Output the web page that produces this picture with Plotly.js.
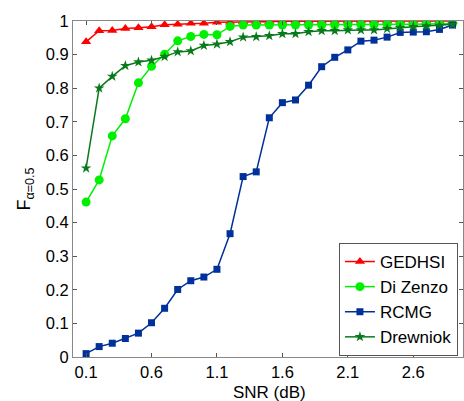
<!DOCTYPE html>
<html>
<head>
<meta charset="utf-8">
<script src="https://cdn.plot.ly/plotly-3.0.1.min.js"></script>
<style>html,body{margin:0;padding:0;background:#fff;}#chart{width:464px;height:401px;}</style>
</head>
<body>
<div id="chart"></div>
<script>
const snr = [0.1,0.2,0.3,0.4,0.5,0.6,0.7,0.8,0.9,1.0,1.1,1.2,1.3,1.4,1.5,1.6,1.7,1.8,1.9,2.0,2.1,2.2,2.3,2.4,2.5,2.6,2.7,2.8,2.9];
const gedhsi = [0.938,0.971,0.972,0.978,0.980,0.983,0.989,0.990,0.993,0.993,0.996,0.996,0.998,0.998,0.998,0.999,0.999,0.999,0.999,0.999,1.0,1.0,1.0,1.0,1.0,1.0,1.0,1.0,1.0];
const diZenzo = [0.461,0.527,0.658,0.709,0.816,0.865,0.901,0.941,0.954,0.960,0.959,0.984,0.988,0.988,0.988,0.988,0.988,0.988,0.988,0.988,0.989,0.989,0.989,0.990,0.990,0.990,0.991,0.991,0.992];
const rcmg = [0.010,0.031,0.041,0.055,0.071,0.102,0.145,0.201,0.227,0.238,0.261,0.367,0.537,0.551,0.712,0.757,0.765,0.809,0.864,0.892,0.914,0.940,0.943,0.952,0.966,0.967,0.968,0.975,0.988];
const drewniok = [0.562,0.800,0.835,0.867,0.878,0.883,0.894,0.908,0.911,0.927,0.931,0.938,0.952,0.953,0.956,0.962,0.962,0.968,0.971,0.971,0.973,0.973,0.973,0.977,0.980,0.983,0.985,0.987,0.990];
const xTicks = [0.1,0.6,1.1,1.6,2.1,2.6];
const yTicks = [0,0.1,0.2,0.3,0.4,0.5,0.6,0.7,0.8,0.9,1];
const yTickText = ['0','0.1','0.2','0.3','0.4','0.5','0.6','0.7','0.8','0.9','1'];
const xTitle = 'SNR (dB)';
const yTitle = 'F<sub>α=0.5</sub>';

const traces = [
  {x:snr,y:gedhsi,name:'GEDHSI',mode:'lines+markers',line:{color:'#ff0000',width:1.5},marker:{symbol:'triangle-up',size:9,color:'#ff0000'}},
  {x:snr,y:diZenzo,name:'Di Zenzo',mode:'lines+markers',line:{color:'#00f000',width:1.5},marker:{symbol:'circle',size:9,color:'#00f000'}},
  {x:snr,y:rcmg,name:'RCMG',mode:'lines+markers',line:{color:'#00309a',width:1.5},marker:{symbol:'square',size:7,color:'#00309a'}},
  {x:snr,y:drewniok,name:'Drewniok',mode:'lines+markers',line:{color:'#087a1c',width:1.5},marker:{symbol:'star',size:8,color:'#087a1c'}}
];
const fam = 'Liberation Sans, Arial, sans-serif';
const layout = {
  width:464,height:401,
  margin:{l:73,r:1,t:21,b:44,pad:0},
  paper_bgcolor:'#fff',plot_bgcolor:'#fff',
  font:{family:fam,size:16.5,color:'#000'},
  showlegend:true,
  legend:{x:0.987,y:0.003,xanchor:'right',yanchor:'bottom',bgcolor:'#fff',bordercolor:'#555',borderwidth:1,font:{family:fam,size:17,color:'#000'},tracegroupgap:0,itemwidth:30},
  xaxis:{range:[0,2.98],tickvals:xTicks,ticktext:xTicks.map(v=>v.toFixed(1)),ticks:'inside',ticklen:4,tickcolor:'#555',showline:true,linecolor:'#888',linewidth:1,mirror:'ticks',showgrid:false,zeroline:false,
    tickfont:{family:fam,size:16.5}},
  yaxis:{range:[0,1],tickvals:yTicks,ticktext:yTickText,ticks:'inside',ticklen:4,tickcolor:'#555',showline:true,linecolor:'#888',linewidth:1,mirror:'ticks',showgrid:false,zeroline:false,
    tickfont:{family:fam,size:16.5},
    title:{text:yTitle,font:{family:fam,size:18},standoff:10}},
  annotations:[{text:xTitle,xref:'paper',yref:'paper',x:0.505,y:-0.107,xanchor:'center',yanchor:'middle',showarrow:false,font:{family:fam,size:17,color:'#000'}}]
};
Plotly.newPlot('chart',traces,layout,{displayModeBar:false,staticPlot:true});
</script>
</body>
</html>
